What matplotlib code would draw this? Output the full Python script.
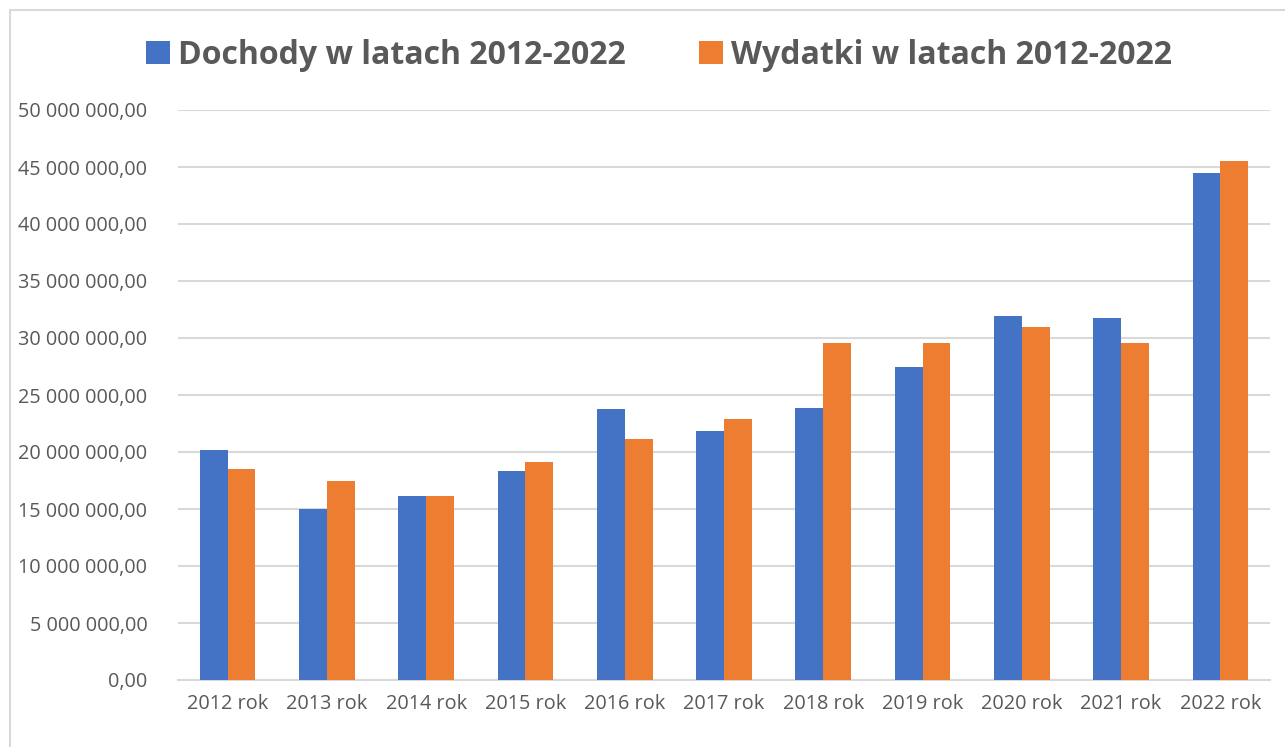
import numpy as np
import matplotlib
matplotlib.use('Agg')
import matplotlib.pyplot as plt
from matplotlib.ticker import FuncFormatter
from matplotlib.patches import Rectangle

years = ['2012 rok', '2013 rok', '2014 rok', '2015 rok', '2016 rok', '2017 rok',
         '2018 rok', '2019 rok', '2020 rok', '2021 rok', '2022 rok']
dochody = [20.2, 15.0, 16.15, 18.3, 23.8, 21.8, 23.9, 27.45, 31.9, 31.75, 44.5]
wydatki = [18.5, 17.45, 16.15, 19.1, 21.1, 22.9, 29.55, 29.55, 30.95, 29.55, 45.5]
dochody = [v * 1e6 for v in dochody]
wydatki = [v * 1e6 for v in wydatki]

blue = '#4472c4'
orange = '#ed7d31'
grey = '#595959'

plt.rcParams['font.family'] = ['Open Sans', 'DejaVu Sans']

fig = plt.figure(figsize=(12.85, 7.47), dpi=100)
ax = fig.add_axes([178 / 1285, 1 - 680 / 747, (1270 - 178) / 1285, 570 / 747])

x = np.arange(len(years))
w = 0.28
ax.bar(x - w / 2, dochody, w, color=blue, label='Dochody w latach 2012-2022', zorder=3)
ax.bar(x + w / 2, wydatki, w, color=orange, label='Wydatki w latach 2012-2022', zorder=3)

ax.set_xlim(-0.5, len(years) - 0.5)
ax.set_ylim(0, 50e6)
ax.set_yticks(np.arange(0, 50e6 + 1, 5e6))


def fmt(v, pos):
    s = f'{v:,.2f}'.replace(',', ' ').replace('.', ',')
    return s


ax.yaxis.set_major_formatter(FuncFormatter(fmt))
ax.set_xticks(x)
ax.set_xticklabels(years)
ax.tick_params(axis='both', length=0, labelsize=14.3, labelcolor=grey)
ax.tick_params(axis='y', pad=22)
ax.tick_params(axis='x', pad=10)
ax.grid(axis='y', color='#d9d9d9', linewidth=1.5, zorder=0)
for s in ['top', 'right', 'left']:
    ax.spines[s].set_visible(False)
ax.spines['bottom'].set_color('#d9d9d9')
ax.spines['bottom'].set_linewidth(1.5)

leg = fig.legend(loc='center', bbox_to_anchor=(0.513, 1 - 55 / 747), ncol=2, frameon=False,
                 handlelength=0.75, handleheight=0.75, handletextpad=0.25, columnspacing=2.3,
                 prop={'size': 23, 'weight': 'bold'})
for t in leg.get_texts():
    t.set_color(grey)

# chart frame
fig.patches.append(Rectangle((10 / 1285, -0.1), 1.2, 1 - 10 / 747 + 0.1, transform=fig.transFigure,
                             fill=False, edgecolor='#d9d9d9', linewidth=1.5))

fig.savefig('out.png', dpi=100)
